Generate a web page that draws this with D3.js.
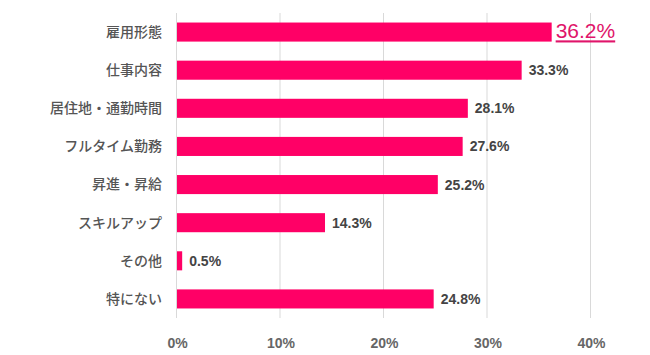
<!DOCTYPE html>
<html>
<head>
<meta charset="utf-8">
<script src="https://cdn.jsdelivr.net/npm/d3@7"></script>
<style>
  body { margin: 0; background: #fff; }
  text { font-family: "Noto Sans CJK JP", "Liberation Sans", sans-serif; }
</style>
</head>
<body>
<svg id="chart" width="650" height="355"></svg>
<script>
var categories = ["雇用形態", "仕事内容", "居住地・通勤時間", "フルタイム勤務", "昇進・昇給", "スキルアップ", "その他", "特にない"];
var values = [36.2, 33.3, 28.1, 27.6, 25.2, 14.3, 0.5, 24.8];
var ticks = [0, 10, 20, 30, 40];
var highlight = 0; // index of the emphasised label

var svg = d3.select("#chart");
var margin = {top: 13, left: 176, right: 60, bottom: 37};
var width = 590 - margin.left, height = 318 - margin.top;

var x = d3.scaleLinear().domain([0, 40]).range([0, width]);
var y = d3.scaleBand().domain(categories).range([0, height]).paddingInner(0.5).paddingOuter(0.25);

var g = svg.append("g").attr("transform", "translate(" + margin.left + "," + margin.top + ")");

// grid lines
g.selectAll(".grid").data(ticks).enter().append("line")
  .attr("x1", function(d){ return x(d) + 0.5; })
  .attr("x2", function(d){ return x(d) + 0.5; })
  .attr("y1", 0).attr("y2", height)
  .style("stroke", "#d9d9d9").style("stroke-width", 1);

// bars
g.selectAll(".bar").data(values).enter().append("rect")
  .attr("x", x(0) + 1)
  .attr("y", function(d, i){ return y(categories[i]); })
  .attr("width", function(d){ return x(d); })
  .attr("height", y.bandwidth())
  .style("fill", "#ff0066");

// value labels
g.selectAll(".val").data(values).enter().append("text")
  .attr("x", function(d, i){ return x(d) + (i === highlight ? 5 : 8); })
  .attr("y", function(d, i){ return y(categories[i]) + y.bandwidth() / 2; })
  .attr("dy", function(d, i){ return i === highlight ? "0.3em" : "0.36em"; })
  .style("font-family", "'Liberation Sans', Arial, sans-serif")
  .style("font-size", function(d, i){ return i === highlight ? "21px" : "14px"; })
  .style("font-weight", function(d, i){ return i === highlight ? "normal" : "bold"; })
  .style("fill", function(d, i){ return i === highlight ? "#e0156a" : "#444"; })
  .style("text-decoration", function(d, i){ return i === highlight ? "underline" : "none"; })
  .text(function(d){ return d.toFixed(1) + "%"; });

// category labels
g.selectAll(".cat").data(categories).enter().append("text")
  .attr("x", -14)
  .attr("y", function(d){ return y(d) + y.bandwidth() / 2; })
  .attr("dy", "0.35em")
  .attr("text-anchor", "end")
  .style("font-size", "14px")
  .style("font-weight", "500")
  .style("fill", "#555")
  .text(function(d){ return d; });

// x axis tick labels
var xAxis = d3.axisBottom(x).tickValues(ticks).tickSize(0).tickPadding(0)
  .tickFormat(function(d){ return d + "%"; });
var ax = g.append("g").attr("transform", "translate(1," + (height + 20) + ")").call(xAxis);
ax.select(".domain").remove();
ax.selectAll("text")
  .style("font-family", "'Liberation Sans', Arial, sans-serif")
  .style("font-size", "14px")
  .style("font-weight", "bold")
  .style("fill", "#666");
</script>
</body>
</html>
